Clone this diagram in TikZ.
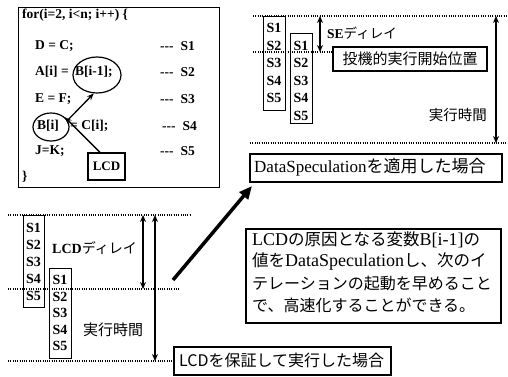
\documentclass[tikz,border=0pt]{standalone}
\usepackage{fontspec}
\setmainfont{Liberation Serif}
\newfontfamily\jp{Noto Sans CJK JP}
\usetikzlibrary{arrows.meta,shapes.geometric}
\begin{document}
\begin{tikzpicture}[x=1pt,y=-1pt,
  code/.style={anchor=west,inner sep=0pt,font=\bfseries\fontsize{13.5}{15}\selectfont},
  slab/.style={inner sep=0pt,font=\bfseries\fontsize{14}{15}\selectfont},
  colbox/.style={draw,line width=1pt,inner sep=0pt,anchor=north west},
  dots/.style={line width=1.6pt,dash pattern=on 1pt off 1.3pt},
  dbl/.style={line width=1.5pt,{Stealth[length=7pt,width=6pt]}-{Stealth[length=7pt,width=6pt]}},
  boxt/.style={draw,line width=1.6pt,inner sep=0pt},
  txt/.style={inner sep=0pt},
  thinarr/.style={line width=1.3pt,-{Stealth[length=7pt,width=5.5pt]}},
]
\useasboundingbox (0,0) rectangle (508,376);

% ---------- code box ----------
\node[draw,line width=1.2pt,minimum width=201,minimum height=180,anchor=north west,inner sep=0pt] (codebox) at (18,7) {};
\node[code] (l0) at (22,15) {for(i=2, i<n; i++) \{};
\node[code] (l1) at (35,46) {D = C;};
\node[code] (l2a) at (35,72) {A[i] =};
\node[code] (l2b) at (75,72) {B[i-1];};
\node[code] (l3) at (35,99) {E = F;};
\node[code] (l4a) at (37,126) {B[i]};
\node[code] (l4b) at (70,126) {= C[i];};
\node[code] (l5) at (35,151) {J=K;};
\node[code] (l6) at (22,177) {\}};
\node[code] (d1) at (160,46) {-{}-{}-\hspace{7pt}S1};
\node[code] (d2) at (160,72) {-{}-{}-\hspace{7pt}S2};
\node[code] (d3) at (160,99) {-{}-{}-\hspace{7pt}S3};
\node[code] (d4) at (162,126) {-{}-{}-\hspace{7pt}S4};
\node[code] (d5) at (160,151) {-{}-{}-\hspace{7pt}S5};
\node[draw,ellipse,line width=1.2pt,minimum width=48,minimum height=36,inner sep=0pt] (e1) at (97,75) {};
\node[draw,ellipse,line width=1.2pt,minimum width=36,minimum height=28,inner sep=0pt] (c1) at (51,127) {};
\node[boxt,minimum width=37,minimum height=27,font=\bfseries\fontsize{13}{13}\selectfont] (lcd) at (106.5,166.5) {LCD};
\draw[thinarr] (lcd.115) -- (c1.35);
\draw[thinarr] (c1.22) -- (e1.-100);

% ---------- top right ----------
\draw[dots] (253,16) -- (508,16);
\draw[dots] (253,52) -- (332,52);
\draw[dots] (250,143) -- (508,143);
\node[colbox,minimum width=22,minimum height=94] (tc1) at (263,16) {};
\foreach \i/\y in {1/28,2/45.5,3/63,4/80.5,5/98} \node[slab] (ta\i) at (274,\y) {S\i};
\node[colbox,minimum width=22,minimum height=90] (tc2) at (290,33) {};
\foreach \i/\y in {1/45.5,2/63,3/80.5,4/98,5/115.5} \node[slab] (tb\i) at (301,\y) {S\i};
\coordinate (se1) at (320,16);
\coordinate (se2) at (320,52);
\draw[dbl] (se1) -- (se2);
\node[txt,anchor=west,font=\fontsize{13.5}{14}\selectfont] (setext) at (327,33) {{\bfseries SE}{\jp ディレイ}};
\node[boxt,minimum width=154,minimum height=24,font=\jp\fontsize{15}{15}\selectfont] (spec) at (410,59) {投機的実行開始位置};
\coordinate (rt1) at (496,16);
\coordinate (rt2) at (496,143);
\draw[dbl] (rt1) -- (rt2);
\node[txt,anchor=east,font=\jp\fontsize{14.5}{15}\selectfont] (ttime) at (487,115) {実行時間};
\node[boxt,minimum width=252,minimum height=28,anchor=north west] (ds) at (249,153) {};
\node[txt,anchor=west,font=\fontsize{17}{17}\selectfont] (dstext) at (254,167) {DataSpeculation{\jp を適用した場合}};

% ---------- bottom left ----------
\draw[dots] (8,215) -- (190,215);
\draw[dots] (8,289) -- (180,289);
\draw[dots] (8,361) -- (173,361);
\node[colbox,minimum width=21,minimum height=92] (bc1) at (23,215) {};
\foreach \i/\y in {1/228,2/245,3/262,4/279,5/296} \node[slab] (ba\i) at (33.5,\y) {S\i};
\node[colbox,minimum width=22,minimum height=90] (bc2) at (49,268) {};
\foreach \i/\y in {1/280,2/297,3/313,4/330,5/346} \node[slab] (bb\i) at (60,\y) {S\i};
\coordinate (ld1) at (143,215);
\coordinate (ld2) at (143,289);
\draw[dbl] (ld1) -- (ld2);
\coordinate (lt1) at (155,215);
\coordinate (lt2) at (155,361);
\draw[dbl] (lt1) -- (lt2);
\node[txt,anchor=west,font=\fontsize{14}{14}\selectfont] (lcdd) at (52,248) {{\bfseries LCD}{\jp ディレイ}};
\node[txt,anchor=west,font=\jp\fontsize{15}{15}\selectfont] (btime) at (83,330) {実行時間};
\node[boxt,minimum width=217,minimum height=28,anchor=north west] (guar) at (173,346) {};
\node[txt,anchor=west,font=\jp\fontsize{16}{16}\selectfont] (guartext) at (179,360) {LCDを保証して実行した場合};

% ---------- description ----------
\node[boxt,minimum width=255,minimum height=94,anchor=north west] (desc) at (245,228) {};
\node[txt,anchor=west,font=\fontsize{18}{18}\selectfont] (dl1) at (252,240) {LCD{\jp\fontsize{16.5}{18}\selectfont の原因となる変数}B[i-1]{\jp\fontsize{16.5}{18}\selectfont の}};
\node[txt,anchor=west,font=\fontsize{18}{18}\selectfont] (dl2) at (252,261.5) {{\jp\fontsize{16.5}{18}\selectfont 値を}DataSpeculation{\jp\fontsize{16.5}{18}\selectfont し、次のイ}};
\node[txt,anchor=west,font=\jp\fontsize{16}{17}\selectfont] (dl3) at (252,283) {テレーションの起動を早めること};
\node[txt,anchor=west,font=\jp\fontsize{16}{17}\selectfont] (dl4) at (252,305) {で、高速化することができる。};

\coordinate (big1) at (173,280);
\coordinate (big2) at (252,186);
\draw[line width=3.5pt,-{Triangle[length=13pt,width=11pt]}] (big1) -- (big2);
\end{tikzpicture}
\end{document}
